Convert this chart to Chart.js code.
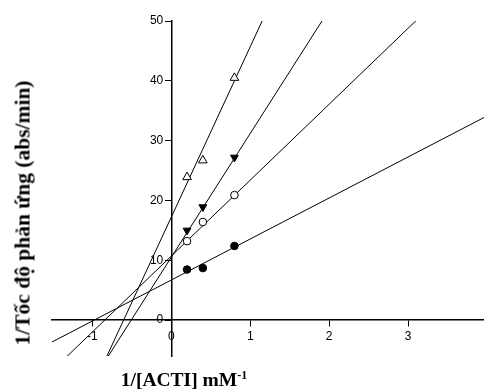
<!DOCTYPE html>
<html><head><meta charset="utf-8">
<script src="https://cdn.jsdelivr.net/npm/chart.js@4/dist/chart.umd.min.js"></script>
<style>
html,body{margin:0;padding:0;background:#fff;}
#wrap{position:relative;width:484px;height:390px;overflow:hidden;background:#fff;}
#c{position:absolute;left:0;top:0;}
.yt{position:absolute;left:23px;top:213px;transform:translate(-50%,-50%) rotate(-90deg);white-space:nowrap;font:bold 21.5px "Liberation Serif","Times New Roman",serif;color:#000;}
.xt{position:absolute;left:184px;top:380px;transform:translate(-50%,-50%);white-space:nowrap;font:bold 19.5px "Liberation Serif","Times New Roman",serif;color:#000;}
.xt sup{font-size:12px;vertical-align:7px;line-height:0;}
</style></head>
<body>
<div id="wrap">
<canvas id="c" width="484" height="390"></canvas>
<div class="yt">1/Tốc độ phản ứng (abs/min)</div>
<div class="xt">1/[ACTI] mM<sup>-1</sup></div>
</div>
<script>
// data
const xValues = [0.2, 0.4, 0.8];
const filledCircle = [8.45, 8.7, 12.4];
const openCircle = [13.2, 16.4, 20.9];
const filledTriangle = [15.0, 18.9, 27.2];
const openTriangle = [23.9, 26.7, 40.5];
// fitted regression lines: intercept and slope (order: ●, ○, ▼, △)
const fitIntercepts = [6.7, 10.7, 10.5, 17.2];
const fitSlopes = [6.86, 12.7, 20.7, 28.5];
const xTicks = [-1, 0, 1, 2, 3];
const yTicks = [0, 10, 20, 30, 40, 50];

const X_MIN = -1.51, X_MAX = 3.96, Y_MIN = -6, Y_MAX = 50;

function pts(ys){ return xValues.map((x,i)=>({x:x, y:ys[i]})); }
function fitLine(i){
  return [X_MIN, X_MAX].map(x=>({x:x, y:fitIntercepts[i] + fitSlopes[i]*x}));
}

const datasets = [];
const markerDefs = [
  {data: filledCircle, style:'circle', bg:'#000', r:3.8, rot:0},
  {data: openCircle, style:'circle', bg:'#fff', r:3.8, rot:0},
  {data: filledTriangle, style:'triangle', bg:'#000', r:4.5, rot:180},
  {data: openTriangle, style:'triangle', bg:'#fff', r:5, rot:0}
];
markerDefs.forEach(m=>{
  datasets.push({type:'scatter', data:pts(m.data), showLine:false, pointStyle:m.style,
    pointRadius:m.r, pointRotation:m.rot, backgroundColor:m.bg, borderColor:'#000',
    pointBorderWidth:1, order:0});
});
fitIntercepts.forEach((b,i)=>{
  datasets.push({type:'line', data:fitLine(i), borderColor:'#000', borderWidth:1,
    pointRadius:0, fill:false, order:1});
});

function fitZero(s){
  if (s.isHorizontal()) s.height = 0; else s.width = 0;
  s.paddingLeft = s.paddingRight = s.paddingTop = s.paddingBottom = 0;
}

// move y tick labels to the left of the outward tick marks
const yLabelShift = {
  id:'yLabelShift',
  beforeDraw(chart){
    const s = chart.scales.y;
    const items = s._computeLabelItems(chart.chartArea);
    items.forEach(it=>{ it.options.translation[0] -= 8; });
    s._labelItems = items;
  }
};

new Chart(document.getElementById('c'), {
  data:{datasets:datasets},
  plugins:[yLabelShift],
  options:{
    responsive:false, animation:false, devicePixelRatio:1,
    layout:{autoPadding:false, padding:{left:52,right:0,top:21,bottom:34}},
    plugins:{legend:{display:false}, tooltip:{enabled:false}},
    scales:{
      x:{type:'linear', min:X_MIN, max:X_MAX, position:{y:0},
        afterBuildTicks:s=>{s.ticks = xTicks.map(v=>({value:v}));},
        afterFit:fitZero,
        grid:{display:true, drawOnChartArea:false, drawTicks:true, tickLength:6, color:'#000', lineWidth:1},
        border:{display:true, color:'#000', width:1.5},
        ticks:{color:'#000', padding:3, maxRotation:0, autoSkip:false, font:{family:'"Liberation Sans", Arial, sans-serif', size:12}}
      },
      y:{type:'linear', min:Y_MIN, max:Y_MAX, position:{x:0},
        afterBuildTicks:s=>{s.ticks = yTicks.map(v=>({value:v}));},
        afterFit:fitZero,
        grid:{display:true, drawOnChartArea:false, drawTicks:true, tickLength:6, color:'#000', lineWidth:1},
        border:{display:true, color:'#000', width:1.5},
        ticks:{color:'#000', padding:2, autoSkip:false, font:{family:'"Liberation Sans", Arial, sans-serif', size:12}}
      }
    }
  }
});
</script>
</body></html>
